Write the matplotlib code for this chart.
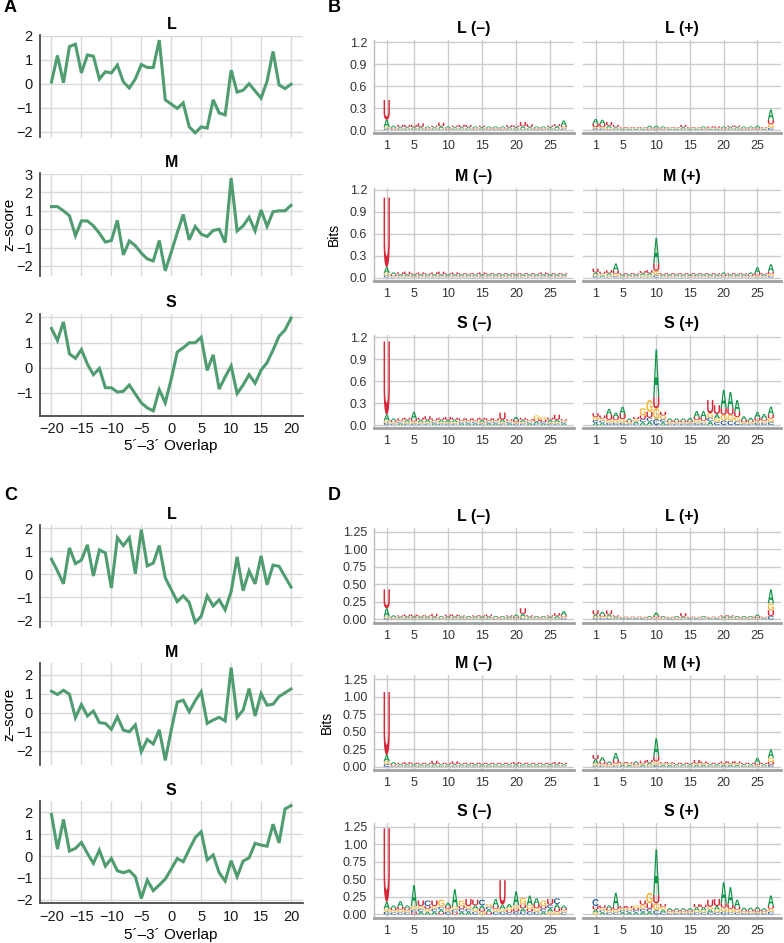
import matplotlib
matplotlib.use('Agg')
import matplotlib.pyplot as plt
import matplotlib.transforms as mtransforms
from matplotlib.textpath import TextPath
from matplotlib.patches import PathPatch
from matplotlib.font_manager import FontProperties
from matplotlib.ticker import MultipleLocator, FixedLocator, FormatStrFormatter

plt.rcParams['font.family'] = ['Liberation Sans', 'DejaVu Sans']

# ---- line data (z-score vs 5'-3' overlap) ----
overlap = list(range(-20, 21))

a_L = [0.07, 1.18, 0.04, 1.55, 1.65, 0.45, 1.2, 1.15, 0.2, 0.5, 0.45, 0.78, 0.08, -0.18, 0.2, 0.8, 0.68, 0.68, 1.82, -0.67,
       -0.85, -1.03, -0.8, -1.8, -2.05, -1.8, -1.85, -0.67, -1.22, -1.3, 0.57, -0.35, -0.27, 0.0, -0.3, -0.6, 0.1, 1.35, -0.05, -0.2, -0.02]
a_M = [1.23, 1.23, 1.0, 0.73, -0.35, 0.45, 0.45, 0.18, -0.22, -0.7, -0.62, 0.48, -1.4, -0.64, -0.9, -1.3, -1.62, -1.73, -0.62, -2.27,
       -1.25, -0.2, 0.8, -0.58, 0.15, -0.27, -0.4, -0.07, 0.0, -0.73, 2.78, -0.1, 0.18, 0.65, -0.1, 1.05, 0.15, 0.95, 1.0, 1.0, 1.3]
a_S = [1.56, 1.08, 1.82, 0.55, 0.37, 0.72, 0.14, -0.28, -0.03, -0.8, -0.8, -0.97, -0.94, -0.69, -1.05, -1.4, -1.6, -1.72, -0.88, -1.4,
       -0.45, 0.62, 0.79, 0.99, 0.99, 1.21, -0.11, 0.51, -0.85, -0.37, 0.07, -1.03, -0.69, -0.28, -0.62, -0.1, 0.2, 0.7, 1.25, 1.5, 1.97]

c_L = [0.66, 0.15, -0.41, 1.15, 0.47, 0.62, 1.28, -0.07, 1.06, 0.93, -0.59, 1.59, 1.25, 1.59, 0.03, 1.94, 0.37, 0.49, 1.25, -0.15,
       -0.66, -1.18, -0.93, -1.22, -2.08, -1.82, -0.93, -1.37, -1.1, -1.54, -0.74, 0.76, -0.71, 0.15, -0.41, 0.8, -0.45, 0.4, 0.35, -0.1, -0.55]
c_M = [1.13, 0.96, 1.18, 0.97, -0.26, 0.43, -0.17, 0.09, -0.52, -0.56, -0.87, -0.21, -0.91, -1.0, -0.64, -2.04, -1.4, -1.64, -0.9, -2.5,
       -0.9, 0.56, 0.66, 0.05, 0.63, 1.1, -0.56, -0.38, -0.24, -0.43, 2.37, -0.24, 0.14, 1.27, -0.17, 1.0, 0.4, 0.45, 0.85, 1.05, 1.25]
c_S = [1.9, 0.32, 1.67, 0.23, 0.35, 0.62, 0.12, -0.33, 0.27, -0.46, -0.11, -0.67, -0.76, -0.67, -0.94, -1.93, -1.1, -1.58, -1.32, -1.05,
       -0.59, -0.11, -0.26, 0.3, 0.84, 1.11, -0.18, 0.05, -0.76, -1.14, -0.21, -0.94, -0.23, -0.08, 0.58, 0.5, 0.45, 1.45, 0.6, 2.15, 2.3]

# ---- sequence logo data (bits x 100, positions 1..27) ----
positions = list(range(1, 28))

b_L_minus = {
    'U': [27, 1, 3, 3, 3, 5, 1, 2, 5, 1, 2, 3, 3, 1, 2, 1, 1, 1, 3, 2, 6, 4, 1, 1, 2, 3, 2],
    'A': [10, 3, 2, 2, 2, 2, 2, 2, 3, 2, 2, 2, 2, 2, 2, 2, 2, 2, 2, 2, 3, 2, 2, 2, 2, 3, 7],
    'G': [2, 1, 1, 1, 1, 1, 1, 1, 1, 1, 1, 1, 1, 1, 1, 1, 1, 1, 1, 1, 1, 1, 1, 1, 1, 1, 2],
    'C': [2, 1, 1, 1, 1, 1, 1, 1, 1, 1, 1, 1, 1, 1, 1, 1, 1, 1, 1, 1, 1, 1, 1, 1, 1, 1, 2],
}
b_L_plus = {
    'A': [6, 6, 3, 2, 1, 1, 1, 1, 3, 3, 2, 1, 1, 2, 1, 1, 2, 1, 1, 2, 2, 2, 2, 2, 3, 1, 14],
    'U': [5, 4, 5, 3, 1, 1, 1, 1, 1, 1, 1, 1, 1, 3, 1, 1, 1, 2, 2, 1, 2, 2, 1, 1, 1, 1, 6],
    'G': [2, 2, 2, 1, 1, 1, 1, 1, 1, 1, 1, 1, 1, 1, 1, 1, 1, 1, 1, 1, 1, 1, 1, 1, 1, 1, 5],
    'C': [2, 2, 1, 1, 1, 1, 1, 1, 1, 1, 1, 1, 1, 1, 1, 1, 1, 1, 1, 1, 1, 1, 1, 1, 1, 1, 3],
}
b_M_minus = {
    'U': [95, 2, 3, 4, 2, 3, 2, 3, 4, 2, 3, 2, 2, 2, 3, 2, 2, 2, 2, 2, 2, 2, 2, 3, 2, 2, 2],
    'A': [8, 3, 2, 2, 2, 2, 2, 2, 2, 2, 2, 2, 2, 2, 2, 2, 2, 2, 2, 2, 2, 2, 2, 2, 2, 2, 2],
    'G': [3, 1, 1, 1, 1, 1, 1, 1, 1, 1, 1, 1, 1, 1, 1, 1, 1, 1, 1, 1, 1, 1, 1, 1, 1, 1, 1],
    'C': [3, 1, 1, 1, 1, 1, 1, 1, 1, 1, 1, 1, 1, 1, 1, 1, 1, 1, 1, 1, 1, 1, 1, 1, 1, 1, 1],
}
b_M_plus = {
    'A': [3, 2, 3, 10, 2, 2, 2, 3, 3, 35, 2, 2, 2, 2, 2, 2, 2, 2, 2, 3, 2, 2, 2, 3, 8, 2, 10],
    'U': [5, 3, 4, 4, 2, 2, 2, 3, 4, 10, 2, 2, 2, 2, 2, 2, 2, 2, 2, 2, 2, 2, 2, 2, 3, 2, 3],
    'G': [2, 2, 2, 3, 1, 1, 1, 2, 2, 6, 1, 1, 1, 1, 1, 1, 1, 1, 1, 1, 1, 1, 1, 1, 2, 1, 3],
    'C': [2, 1, 1, 2, 1, 1, 1, 1, 1, 3, 1, 1, 1, 1, 1, 1, 1, 1, 1, 1, 1, 1, 1, 1, 1, 1, 2],
}
b_S_minus = {
    'U': [100, 2, 3, 3, 3, 3, 5, 3, 3, 4, 3, 3, 3, 3, 3, 3, 3, 10, 2, 3, 3, 2, 3, 3, 3, 7, 2],
    'A': [8, 3, 2, 3, 10, 3, 3, 2, 3, 3, 3, 2, 2, 2, 3, 2, 2, 3, 2, 4, 3, 2, 3, 2, 3, 3, 2],
    'G': [3, 2, 2, 2, 3, 2, 2, 2, 2, 2, 2, 2, 2, 2, 2, 2, 2, 2, 2, 2, 2, 2, 5, 4, 2, 2, 2],
    'C': [3, 2, 2, 2, 2, 2, 2, 2, 2, 2, 2, 2, 2, 2, 2, 2, 2, 2, 2, 2, 2, 2, 2, 2, 2, 2, 2],
}
b_S_plus = {
    'A': [3, 3, 8, 6, 10, 3, 3, 4, 5, 65, 4, 3, 3, 3, 4, 8, 9, 5, 6, 25, 22, 16, 5, 4, 8, 6, 11],
    'C': [4, 3, 3, 3, 3, 2, 2, 4, 5, 8, 4, 2, 2, 2, 2, 3, 3, 5, 4, 6, 6, 5, 2, 2, 3, 3, 4],
    'G': [4, 3, 4, 4, 5, 2, 3, 10, 16, 15, 5, 2, 2, 2, 2, 4, 3, 6, 5, 8, 8, 6, 2, 2, 3, 3, 5],
    'U': [5, 4, 7, 4, 7, 2, 3, 5, 8, 15, 5, 2, 2, 2, 2, 4, 4, 18, 12, 9, 9, 7, 3, 2, 4, 3, 5],
}

d_L_minus = {
    'U': [27, 1, 2, 3, 3, 2, 2, 4, 1, 3, 3, 2, 1, 2, 2, 3, 1, 1, 2, 2, 8, 2, 1, 1, 2, 4, 2],
    'A': [12, 3, 2, 2, 2, 2, 2, 2, 2, 2, 2, 2, 2, 2, 2, 2, 2, 2, 2, 3, 4, 2, 2, 2, 2, 3, 6],
    'G': [2, 1, 1, 1, 1, 1, 1, 1, 1, 1, 1, 1, 1, 1, 1, 1, 1, 1, 1, 1, 2, 1, 1, 1, 1, 1, 2],
    'C': [2, 1, 1, 1, 1, 1, 1, 1, 1, 1, 1, 1, 1, 1, 1, 1, 1, 1, 1, 1, 2, 1, 1, 1, 1, 1, 2],
}
d_L_plus = {
    'U': [6, 3, 6, 2, 1, 1, 1, 1, 1, 2, 1, 1, 1, 5, 1, 1, 1, 1, 1, 2, 2, 1, 1, 1, 2, 1, 8],
    'A': [3, 4, 3, 2, 1, 1, 1, 1, 2, 5, 2, 1, 2, 2, 1, 1, 2, 1, 1, 2, 2, 2, 2, 2, 3, 1, 20],
    'G': [2, 2, 2, 1, 1, 1, 1, 1, 1, 2, 1, 1, 1, 1, 1, 1, 1, 1, 1, 1, 1, 1, 1, 1, 1, 1, 10],
    'C': [2, 2, 2, 1, 1, 1, 1, 1, 1, 1, 1, 1, 1, 1, 1, 1, 1, 1, 1, 1, 1, 1, 1, 1, 1, 1, 5],
}
d_M_minus = {
    'U': [90, 2, 2, 3, 2, 2, 2, 5, 2, 2, 4, 2, 2, 2, 2, 2, 2, 2, 2, 3, 2, 2, 2, 2, 2, 3, 2],
    'A': [9, 3, 2, 2, 2, 2, 2, 2, 2, 2, 2, 2, 2, 2, 2, 2, 2, 2, 2, 2, 2, 2, 2, 2, 2, 2, 2],
    'G': [4, 1, 1, 1, 1, 1, 1, 1, 1, 1, 1, 1, 1, 1, 1, 1, 1, 1, 1, 1, 1, 1, 1, 1, 1, 1, 1],
    'C': [4, 1, 1, 1, 1, 1, 1, 1, 1, 1, 1, 1, 1, 1, 1, 1, 1, 1, 1, 1, 1, 1, 1, 1, 1, 1, 1],
}
d_M_plus = {
    'U': [6, 4, 2, 5, 2, 2, 2, 4, 4, 7, 2, 2, 2, 2, 2, 5, 3, 2, 2, 3, 3, 3, 2, 2, 3, 2, 4],
    'A': [6, 6, 3, 10, 2, 2, 3, 2, 3, 26, 2, 2, 2, 2, 2, 2, 2, 2, 2, 2, 2, 2, 2, 2, 7, 2, 12],
    'G': [3, 2, 2, 3, 2, 2, 2, 2, 2, 5, 2, 2, 1, 1, 1, 2, 2, 1, 1, 2, 2, 2, 1, 1, 2, 1, 6],
    'C': [2, 2, 1, 2, 1, 1, 1, 1, 1, 3, 1, 1, 1, 1, 1, 1, 1, 1, 1, 1, 1, 1, 1, 1, 1, 1, 3],
}
d_S_minus = {
    'U': [105, 3, 4, 3, 3, 8, 4, 8, 3, 4, 3, 4, 10, 8, 4, 3, 4, 35, 3, 4, 5, 4, 6, 4, 8, 5, 3],
    'A': [10, 4, 8, 4, 30, 4, 4, 4, 4, 5, 25, 4, 4, 5, 5, 4, 10, 6, 5, 20, 5, 14, 8, 4, 5, 6, 4],
    'G': [4, 3, 4, 3, 5, 4, 4, 4, 10, 4, 4, 8, 4, 4, 4, 4, 4, 4, 4, 5, 10, 5, 5, 8, 4, 4, 3],
    'C': [4, 3, 3, 3, 4, 4, 8, 4, 4, 4, 4, 4, 4, 4, 8, 4, 4, 4, 3, 4, 4, 4, 4, 4, 5, 8, 3],
}
d_S_plus = {
    'A': [4, 3, 4, 20, 3, 3, 3, 4, 4, 65, 4, 3, 3, 3, 3, 4, 4, 4, 5, 30, 25, 10, 4, 4, 4, 3, 15],
    'C': [10, 3, 3, 3, 3, 3, 3, 4, 4, 6, 3, 2, 2, 2, 2, 3, 3, 3, 3, 4, 3, 3, 2, 2, 2, 2, 4],
    'G': [3, 3, 3, 4, 3, 3, 4, 6, 15, 10, 4, 2, 2, 2, 2, 3, 3, 4, 4, 6, 5, 4, 2, 2, 2, 2, 4],
    'U': [5, 4, 3, 4, 3, 3, 3, 6, 8, 12, 4, 2, 2, 2, 2, 5, 4, 10, 10, 6, 6, 4, 2, 2, 3, 2, 4],
}

GREEN = '#4f9c70'
LETTER_COLS = {'A': '#109648', 'C': '#255C99', 'G': '#F7B32B', 'U': '#D62839'}

W, H = 784, 943
fig = plt.figure(figsize=(W / 100, H / 100), dpi=100)


def px_axes(left, top, width, height):
    return fig.add_axes([left / W, 1 - (top + height) / H, width / W, height / H])


def line_panel(ax, y, title, bottom):
    ax.plot(overlap, y, color=GREEN, lw=2.2, solid_joinstyle='miter')
    ax.set_xlim(-22, 22)
    lo, hi = min(y), max(y)
    pad = 0.05 * (hi - lo)
    ax.set_ylim(lo - pad, hi + pad)
    ax.xaxis.set_major_locator(MultipleLocator(5))
    ax.yaxis.set_major_locator(MultipleLocator(1))
    ax.grid(True, color='#DADADA', lw=1.0)
    ax.set_axisbelow(True)
    for s in ['top', 'right']:
        ax.spines[s].set_visible(False)
    ax.spines['left'].set_color('#4a4a4a')
    ax.spines['left'].set_linewidth(1.3)
    if bottom:
        ax.spines['bottom'].set_color('#4a4a4a')
        ax.spines['bottom'].set_linewidth(1.3)
    else:
        ax.spines['bottom'].set_visible(False)
    ax.tick_params(length=0, labelsize=10.5, pad=5, colors='#1a1a1a')
    ax.tick_params(labelbottom=bottom)
    ax.set_title(title, fontweight='bold', fontsize=11.5, pad=4.5)


fp_logo = FontProperties(family='Liberation Sans', weight='bold')
GLYPHS = {ch: TextPath((0, 0), ch, size=1, prop=fp_logo) for ch in 'ACGU'}


def draw_letter(ax, ch, x, y0, h, width=0.92):
    path = GLYPHS[ch]
    ext = path.get_extents()
    tr = (mtransforms.Affine2D()
          .translate(-ext.x0, -ext.y0)
          .scale(width / ext.width, h / ext.height)
          .translate(x - width / 2, y0))
    ax.add_patch(PathPatch(tr.transform_path(path), fc=LETTER_COLS[ch], ec='none', lw=0))


def logo_panel(ax, counts, title, ylim, yticks, fmt, left_col):
    for i, pos in enumerate(positions):
        stack = sorted((counts[ch][i] / 100, ch) for ch in 'ACGU')
        base = 0.0
        for h, ch in stack:
            if h > 0:
                draw_letter(ax, ch, pos, base, h)
                base += h
    ax.set_xlim(-0.87, 28.5)
    ax.set_ylim(*ylim)
    ax.xaxis.set_major_locator(FixedLocator([1, 5, 10, 15, 20, 25]))
    ax.yaxis.set_major_locator(FixedLocator(yticks))
    ax.yaxis.set_major_formatter(FormatStrFormatter(fmt))
    ax.grid(True, color='#CCCCCC', lw=1.0)
    ax.set_axisbelow(True)
    for s in ['top', 'right']:
        ax.spines[s].set_visible(False)
    ax.spines['bottom'].set_color('#A0A0A0')
    ax.spines['bottom'].set_linewidth(2.0)
    if left_col:
        ax.spines['left'].set_color('#BDBDBD')
        ax.spines['left'].set_linewidth(1.0)
    else:
        ax.spines['left'].set_visible(False)
    ax.tick_params(length=0, labelsize=9, pad=5, colors='#333333')
    ax.tick_params(labelleft=left_col)
    ax.set_title(title, fontweight='bold', fontsize=11.5, pad=5)


# ---- panels A and C ----
LX, LW_, LH = 39.5, 263.5, 102
for tops, series in [([35.5, 173.5, 313.5], [a_L, a_M, a_S]),
                     ([525.0, 663.0, 801.0], [c_L, c_M, c_S])]:
    for k, (top, y, name) in enumerate(zip(tops, series, ['L', 'M', 'S'])):
        ax = px_axes(LX, top, LW_, LH)
        line_panel(ax, y, name, k == 2)

for ylab_y, xlab_y in [(224, 446), (714, 935)]:
    fig.text(9 / W, 1 - ylab_y / H, 'z–score', rotation=90, fontsize=11,
             ha='center', va='center')
    fig.text(171 / W, 1 - xlab_y / H, '5´–3´ Overlap', fontsize=11,
             ha='center', va='center')

# ---- panels B and D ----
COLX = [(374, 200), (583, 198)]
b_sets = [(b_L_minus, 'L (–)'), (b_L_plus, 'L (+)'), (b_M_minus, 'M (–)'),
          (b_M_plus, 'M (+)'), (b_S_minus, 'S (–)'), (b_S_plus, 'S (+)')]
d_sets = [(d_L_minus, 'L (–)'), (d_L_plus, 'L (+)'), (d_M_minus, 'M (–)'),
          (d_M_plus, 'M (+)'), (d_S_minus, 'S (–)'), (d_S_plus, 'S (+)')]

b_ylim = (-0.045, 1.225)
b_ticks = [0.0, 0.3, 0.6, 0.9, 1.2]
b_tops = [40.2, 187.7, 335.2]
b_h = 93.1
for idx, (counts, title) in enumerate(b_sets):
    r, c = divmod(idx, 2)
    ax = px_axes(COLX[c][0], b_tops[r], COLX[c][1], b_h)
    logo_panel(ax, counts, title, b_ylim, b_ticks, '%.1f', c == 0)
    if r == 1 and c == 0:
        ax.set_ylabel('Bits', fontsize=10, labelpad=6)

d_ylim = (-0.045, 1.31)
d_ticks = [0.0, 0.25, 0.5, 0.75, 1.0, 1.25]
d_tops = [527.8, 675.3, 822.8]
d_h = 94.8
for idx, (counts, title) in enumerate(d_sets):
    r, c = divmod(idx, 2)
    ax = px_axes(COLX[c][0], d_tops[r], COLX[c][1], d_h)
    logo_panel(ax, counts, title, d_ylim, d_ticks, '%.2f', c == 0)
    if r == 1 and c == 0:
        ax.set_ylabel('Bits', fontsize=10, labelpad=6)

# ---- panel letters ----
for lab, x, y in [('A', 4, 8), ('B', 328, 8), ('C', 4, 496), ('D', 328, 496)]:
    fig.text(x / W, 1 - y / H, lab, fontsize=13, fontweight='bold', ha='left', va='center')

fig.savefig('out.png', dpi=100)
